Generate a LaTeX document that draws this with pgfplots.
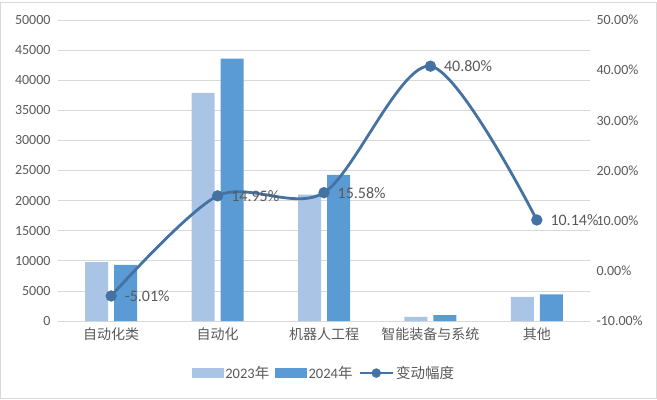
\documentclass[border=0pt]{standalone}
\usepackage{pgfplots}
\pgfplotsset{compat=1.18}
\usepackage{fontspec}
\setmainfont{Carlito}
\newfontfamily\cjk{Noto Sans CJK SC}
\definecolor{cA}{RGB}{169,196,228}
\definecolor{cB}{RGB}{91,155,213}
\definecolor{cL}{RGB}{68,114,163}
\definecolor{txt}{RGB}{89,89,89}
\definecolor{grd}{RGB}{217,217,217}
\begin{document}
\begin{tikzpicture}
\useasboundingbox (-58bp,-79bp) rectangle (599bp,321bp);
\draw[grd, line width=0.8bp] (-57.5bp,-77.5bp) rectangle (598.5bp,318.5bp);
\begin{axis}[
  at={(0,0)}, anchor=south west,
  scale only axis, width=532bp, height=301bp,
  xmin=-0.5, xmax=4.5, ymin=0, ymax=50000,
  ytick={0,5000,...,50000},
  xtick={0,1,2,3,4},
  xticklabels={{\cjk 自动化类},{\cjk 自动化},{\cjk 机器人工程},{\cjk 智能装备与系统},{\cjk 其他}},
  ybar=6bp, bar width=23bp,
  axis y line*=left, axis x line*=bottom,
  y axis line style={draw=none},
  x axis line style={grd, line width=0.8bp, -},
  major tick length=0pt,
  ymajorgrids, grid style={grd, line width=0.8bp},
  tick label style={font=\fontsize{14bp}{16bp}\selectfont, text=txt},
  /pgf/number format/assume math mode=true,
  scaled y ticks=false,
  yticklabel style={/pgf/number format/1000 sep={}, xshift=-4bp},
  xticklabel style={yshift=-3bp},
  clip=false,
]
\addplot[fill=cA, draw=none] coordinates {(0,9800) (1,37900) (2,21000) (3,700) (4,4000)};
\addplot[fill=cB, draw=none] coordinates {(0,9309) (1,43566) (2,24270) (3,986) (4,4406)};
\end{axis}
\begin{axis}[
  at={(0,0)}, anchor=south west,
  scale only axis, width=532bp, height=301bp,
  xmin=-0.5, xmax=4.5, ymin=-10, ymax=50,
  ytick={-10,0,...,50},
  axis y line*=right, axis x line=none,
  y axis line style={draw=none},
  major tick length=0pt,
  tick label style={font=\fontsize{14bp}{16bp}\selectfont, text=txt},
  /pgf/number format/assume math mode=true,
  yticklabel={\pgfmathprintnumber[fixed,fixed zerofill,precision=2]{\tick}\%},
  yticklabel style={xshift=3bp},
  clip=false,
  every node near coord/.append style={anchor=west, xshift=9bp, font=\fontsize{16bp}{18bp}\selectfont, text=txt},
  legend style={at={(0.5,-0.173)}, anchor=center, draw=none, fill=none,
    legend columns=3, font=\fontsize{14.5bp}{16bp}\selectfont, text=txt,
    /tikz/every even column/.append style={column sep=4bp}},
  legend cell align=left,
]
\addlegendimage{legend image code/.code={\fill[cA] (0bp,-4.5bp) rectangle (31bp,4.5bp);}}
\addlegendentry{2023{\cjk 年}}
\addlegendimage{legend image code/.code={\fill[cB] (0bp,-4.5bp) rectangle (31bp,4.5bp);}}
\addlegendentry{2024{\cjk 年}}
\addlegendimage{legend image code/.code={\draw[cL, line width=2.5bp] (0bp,0bp) -- (33bp,0bp); \fill[cL] (16.5bp,0bp) circle (4.5bp);}}
\addlegendentry{{\cjk 变动幅度}}
\addplot[cL, line width=2.8bp, smooth, mark=*, mark size=4.2bp,
  nodes near coords={\pgfmathprintnumber[fixed,fixed zerofill,precision=2]{\pgfplotspointmeta}\%},
  point meta=explicit,
  forget plot]
  coordinates {(0,-5.01) [-5.01] (1,14.95) [14.95] (2,15.58) [15.58] (3,40.80) [40.80] (4,10.14) [10.14]};
\end{axis}
\end{tikzpicture}
\end{document}
